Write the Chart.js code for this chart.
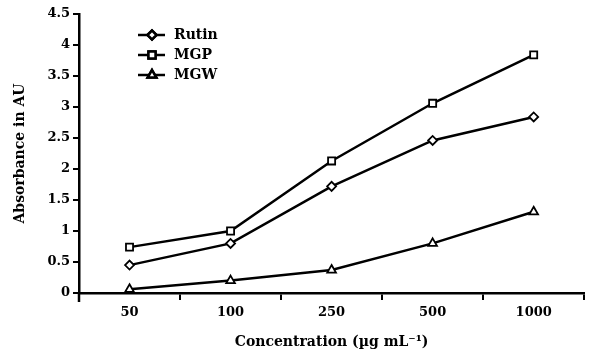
<!DOCTYPE html>
<html>
<head>
<meta charset="utf-8">
<script src="https://cdn.jsdelivr.net/npm/chart.js@4"></script>
<style>
  body { margin: 0; background: #fff; }
  #wrap { width: 591px; height: 355px; }
</style>
</head>
<body>
<div id="wrap"><canvas id="chart" width="591" height="355"></canvas></div>
<script>
const concentrations = ["50", "100", "250", "500", "1000"];
const rutin = [0.45, 0.8, 1.72, 2.46, 2.84];
const mgp = [0.74, 1.0, 2.13, 3.06, 3.84];
const mgw = [0.06, 0.2, 0.37, 0.8, 1.31];
const yTicks = [0, 0.5, 1, 1.5, 2, 2.5, 3, 3.5, 4, 4.5];

const serif = "'DejaVu Serif', 'Liberation Serif', serif";

// legend drawn inside the plot, line + marker like the original figure
const insideLegend = {
  id: "insideLegend",
  afterDraw(chart) {
    const ctx = chart.ctx;
    ctx.save();
    chart.data.datasets.forEach((ds, i) => {
      const y = 35 + i * 20;
      ctx.strokeStyle = "#000";
      ctx.lineWidth = 2.5;
      ctx.beginPath();
      ctx.moveTo(138, y);
      ctx.lineTo(165, y);
      ctx.stroke();
      Chart.helpers.drawPoint(ctx, {
        pointStyle: ds.pointStyle,
        radius: ds.pointRadius,
        borderWidth: 1.8
      }, 152, y);
      ctx.fillStyle = "#fff";
      ctx.fill();
      ctx.stroke();
      ctx.fillStyle = "#000";
      ctx.font = "bold 14px " + serif;
      ctx.textBaseline = "middle";
      ctx.fillText(ds.label, 174, y);
    });
    ctx.restore();
  }
};

// y axis line runs a little past the x axis, as in the figure
const axisStub = {
  id: "axisStub",
  afterDraw(chart) {
    const ctx = chart.ctx;
    const y = chart.scales.y;
    ctx.save();
    ctx.strokeStyle = "#000";
    ctx.lineWidth = 2.5;
    ctx.beginPath();
    ctx.moveTo(y.right, y.bottom);
    ctx.lineTo(y.right, y.bottom + 9);
    ctx.stroke();
    ctx.restore();
  }
};

function series(label, data, style, r) {
  return {
    label: label,
    data: data,
    borderColor: "#000",
    borderWidth: 2.5,
    pointStyle: style,
    pointRadius: r,
    pointBorderWidth: 1.8,
    pointBackgroundColor: "#fff",
    pointBorderColor: "#000",
    tension: 0
  };
}

new Chart(document.getElementById("chart"), {
  type: "line",
  data: {
    labels: concentrations,
    datasets: [
      series("Rutin", rutin, "rectRot", 4.5),
      series("MGP", mgp, "rect", 5),
      series("MGW", mgw, "triangle", 5)
    ]
  },
  options: {
    responsive: false,
    animation: false,
    layout: { padding: { top: 14, right: 2, left: 0, bottom: 0 } },
    plugins: { legend: { display: false }, tooltip: { enabled: false } },
    scales: {
      x: {
        offset: true,
        grid: { offset: true, drawOnChartArea: false, color: "#000", lineWidth: 2, tickLength: 7 },
        border: { color: "#000", width: 2.5 },
        ticks: { color: "#000", font: { family: serif, size: 13, weight: "bold" }, padding: 5 },
        title: {
          display: true,
          text: "Concentration (\u00b5g mL\u207b\u00b9)",
          color: "#000",
          font: { family: serif, size: 14, weight: "bold" },
          padding: { top: 4 }
        },
        afterFit(scale) { scale.height = 62; }
      },
      y: {
        min: 0,
        max: 4.5,
        afterBuildTicks(scale) { scale.ticks = yTicks.map(v => ({ value: v })); },
        grid: { drawOnChartArea: false, color: "#000", lineWidth: 2, tickLength: 6 },
        border: { color: "#000", width: 2.5 },
        ticks: {
          color: "#000",
          font: { family: serif, size: 13, weight: "bold" },
          padding: 3,
          callback: v => String(v)
        },
        title: {
          display: true,
          text: "Absorbance in AU",
          color: "#000",
          font: { family: serif, size: 14, weight: "bold" },
          padding: { top: 12, bottom: 4 }
        },
        afterFit(scale) { scale.width = 79; }
      }
    }
  },
  plugins: [insideLegend, axisStub]
});
</script>
</body>
</html>
